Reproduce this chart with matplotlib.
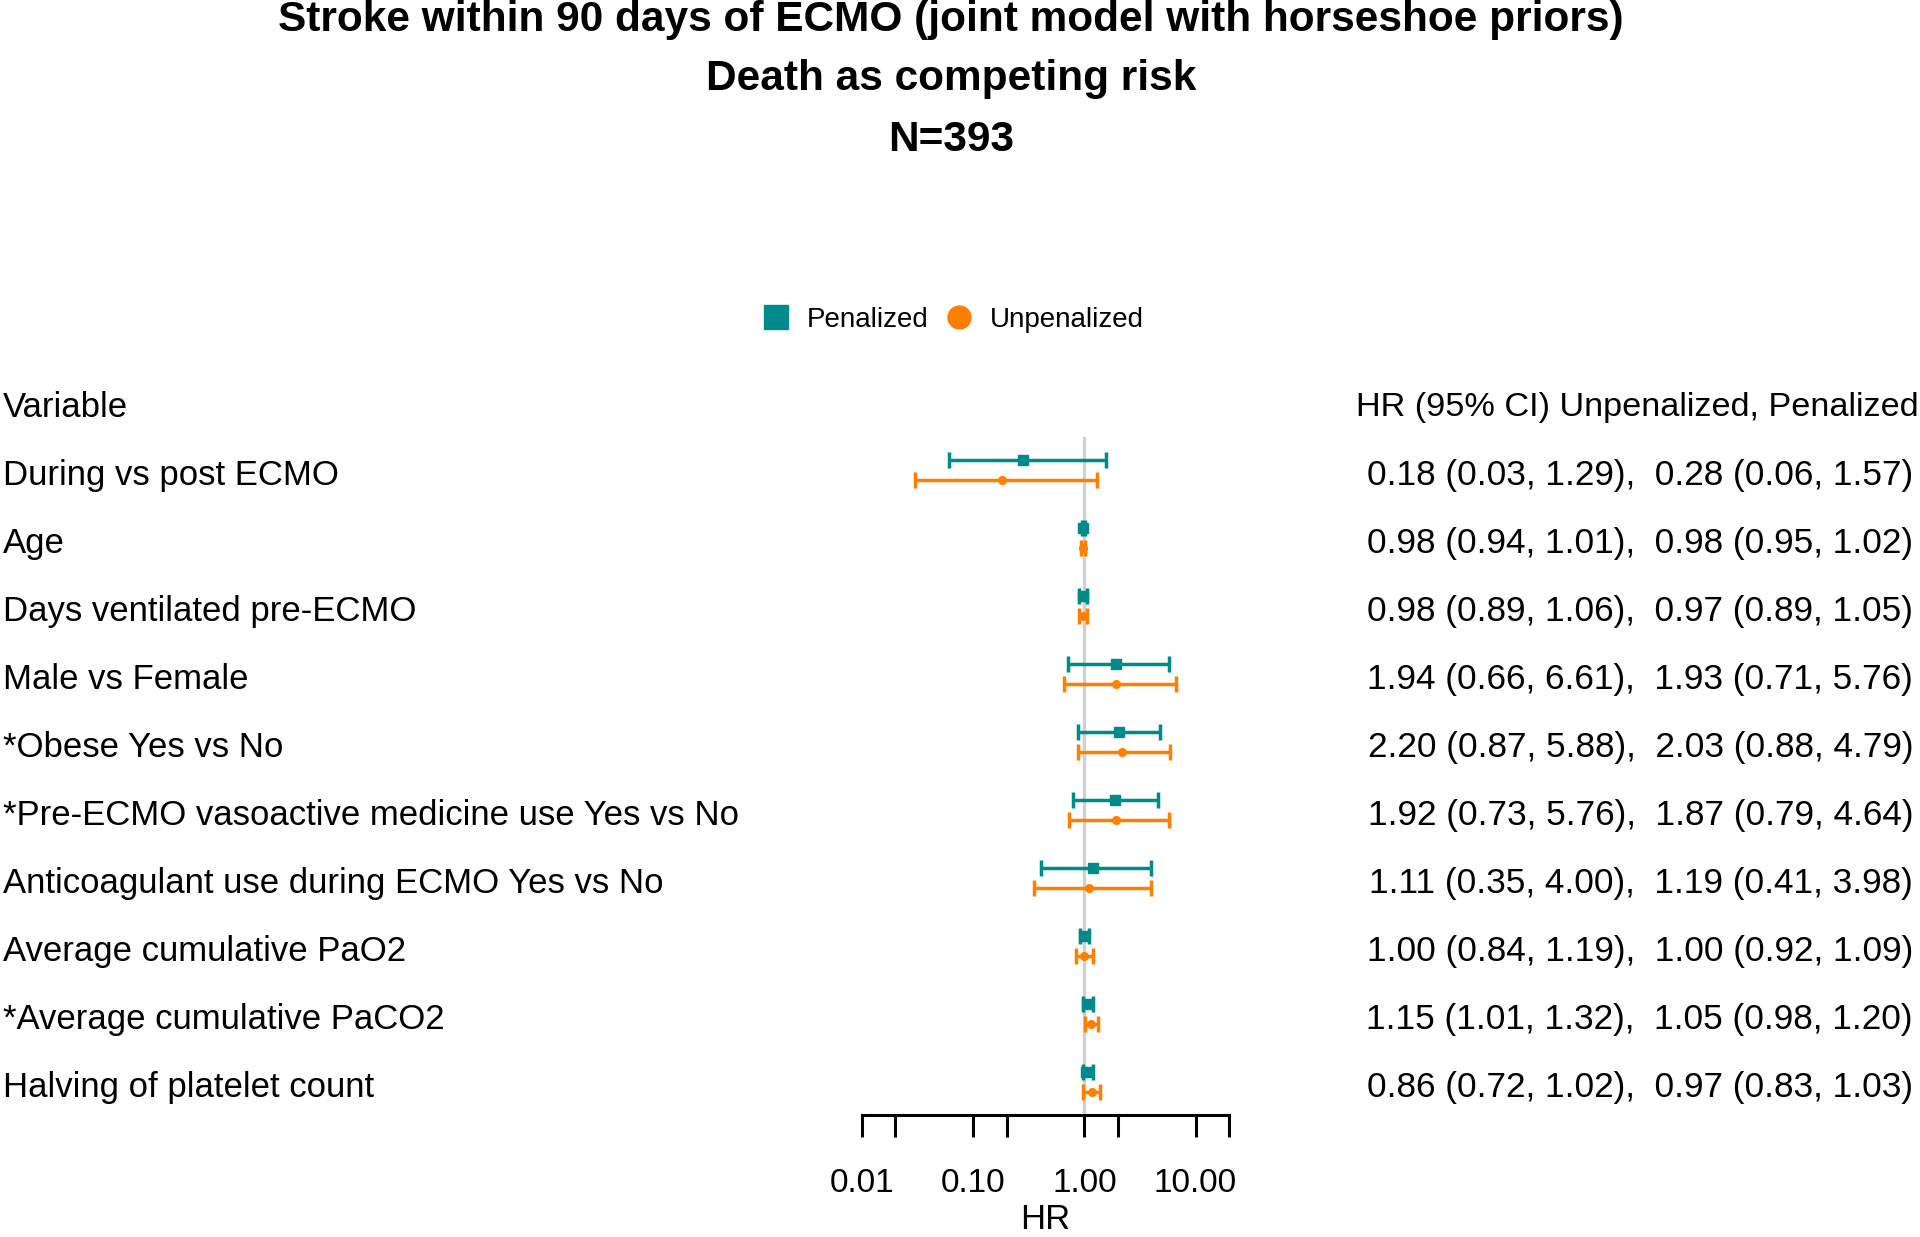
import matplotlib
matplotlib.use("Agg")
import matplotlib.pyplot as plt
import matplotlib.transforms as mtransforms
from matplotlib import font_manager
from matplotlib.lines import Line2D
import numpy as np

variables = ["During vs post ECMO", "Age", "Days ventilated pre-ECMO", "Male vs Female",
             "*Obese Yes vs No", "*Pre-ECMO vasoactive medicine use Yes vs No",
             "Anticoagulant use during ECMO Yes vs No", "Average cumulative PaO2",
             "*Average cumulative PaCO2", "Halving of platelet count"]
unpen_hr = [0.18, 0.98, 0.98, 1.94, 2.20, 1.92, 1.11, 1.00, 1.15, 0.86]
unpen_lo = [0.03, 0.94, 0.89, 0.66, 0.87, 0.73, 0.35, 0.84, 1.01, 0.72]
unpen_hi = [1.29, 1.01, 1.06, 6.61, 5.88, 5.76, 4.00, 1.19, 1.32, 1.02]
pen_hr = [0.28, 0.98, 0.97, 1.93, 2.03, 1.87, 1.19, 1.00, 1.05, 0.97]
pen_lo = [0.06, 0.95, 0.89, 0.71, 0.88, 0.79, 0.41, 0.92, 0.98, 0.83]
pen_hi = [1.57, 1.02, 1.05, 5.76, 4.79, 4.64, 3.98, 1.09, 1.20, 1.03]
# the plot shows the platelet row on the reciprocal scale
plot_inverted = [False] * 9 + [True]

tick_vals = [0.01, 0.02, 0.1, 0.2, 1, 2, 10, 20]
tick_labels = ["0.01", "", "0.10", "", "1.00", "", "10.00", ""]

titles = ["Stroke within 90 days of ECMO (joint model with horseshoe priors)",
          "Death as competing risk", "N=393"]

teal = "#008B8B"
orange = "#FF7F00"

names = {f.name for f in font_manager.fontManager.ttflist}
body_font = "Liberation Sans" if "Liberation Sans" in names else "DejaVu Sans"
plt.rcParams["font.family"] = body_font

W, H = 1920, 1237
fig = plt.figure(figsize=(W / 100, H / 100), dpi=100)

# axes in pixel terms: x 862..1229, y 437..1115
ax = fig.add_axes([862 / W, 1 - 1115 / H, (1229 - 862) / W, (1115 - 437) / H])
ax.set_xscale("log")
ax.set_xlim(0.01, 20)
ax.set_ylim(9.456, -0.515)

ax.axvline(1, color="#d0d0d0", lw=2.4, zorder=0)


def to_plot(hr, lo, hi, inv):
    hr, lo, hi = np.array(hr), np.array(lo), np.array(hi)
    inv = np.array(inv)
    p = np.where(inv, 1 / hr, hr)
    l = np.where(inv, 1 / hi, lo)
    h = np.where(inv, 1 / lo, hi)
    return p, l, h


rows = np.arange(len(variables))
p, l, h = to_plot(pen_hr, pen_lo, pen_hi, plot_inverted)
ax.errorbar(p, rows - 0.176, xerr=[p - l, h - p], fmt="s", color=teal, ms=7.5,
            lw=2.5, capsize=5.8, capthick=2.5)
p, l, h = to_plot(unpen_hr, unpen_lo, unpen_hi, plot_inverted)
ax.errorbar(p, rows + 0.118, xerr=[p - l, h - p], fmt="o", color=orange, ms=5.5,
            lw=2.5, capsize=5.8, capthick=2.5)

for s in ["top", "left", "right"]:
    ax.spines[s].set_visible(False)
ax.spines["bottom"].set_linewidth(2.2)
ax.set_yticks([])
ax.set_xticks(tick_vals, labels=tick_labels)
ax.minorticks_off()
ax.tick_params(axis="x", length=16, width=2.2, pad=22, labelsize=24)
ax.set_xlabel("HR", fontsize=25, labelpad=3)
ax.patch.set_alpha(0)

trans = mtransforms.blended_transform_factory(fig.transFigure, ax.transData)
dy = 0.045
fig.text(3 / W, -1 + dy, "Variable", transform=trans, fontsize=25, va="center", ha="left")
fig.text(1919 / W, -1 + dy, "HR (95% CI) Unpenalized, Penalized", transform=trans,
         fontsize=24.7, va="center", ha="right")
for i, v in enumerate(variables):
    fig.text(3 / W, i + dy, v, transform=trans, fontsize=25, va="center", ha="left")
    s = "%.2f (%.2f, %.2f),  %.2f (%.2f, %.2f)" % (unpen_hr[i], unpen_lo[i], unpen_hi[i],
                                                    pen_hr[i], pen_lo[i], pen_hi[i])
    fig.text(1913 / W, i + dy, s, transform=trans, fontsize=25.4, va="center", ha="right")

for t, y in zip(titles, [20, 79, 140]):
    fig.text(951 / W, 1 - y / H, t, fontsize=30.5, fontweight="bold",
             ha="center", va="center")

handles = [Line2D([], [], marker="s", ls="", color=teal, ms=17),
           Line2D([], [], marker="o", ls="", color=orange, ms=16.5)]
fig.legend(handles, ["Penalized", "Unpenalized"], loc="center", ncol=2,
           bbox_to_anchor=(953 / W, 1 - 320 / H), frameon=False, fontsize=20,
           handlelength=1.0, handletextpad=0.6, columnspacing=0.6)

fig.savefig("out.png", dpi=100)
